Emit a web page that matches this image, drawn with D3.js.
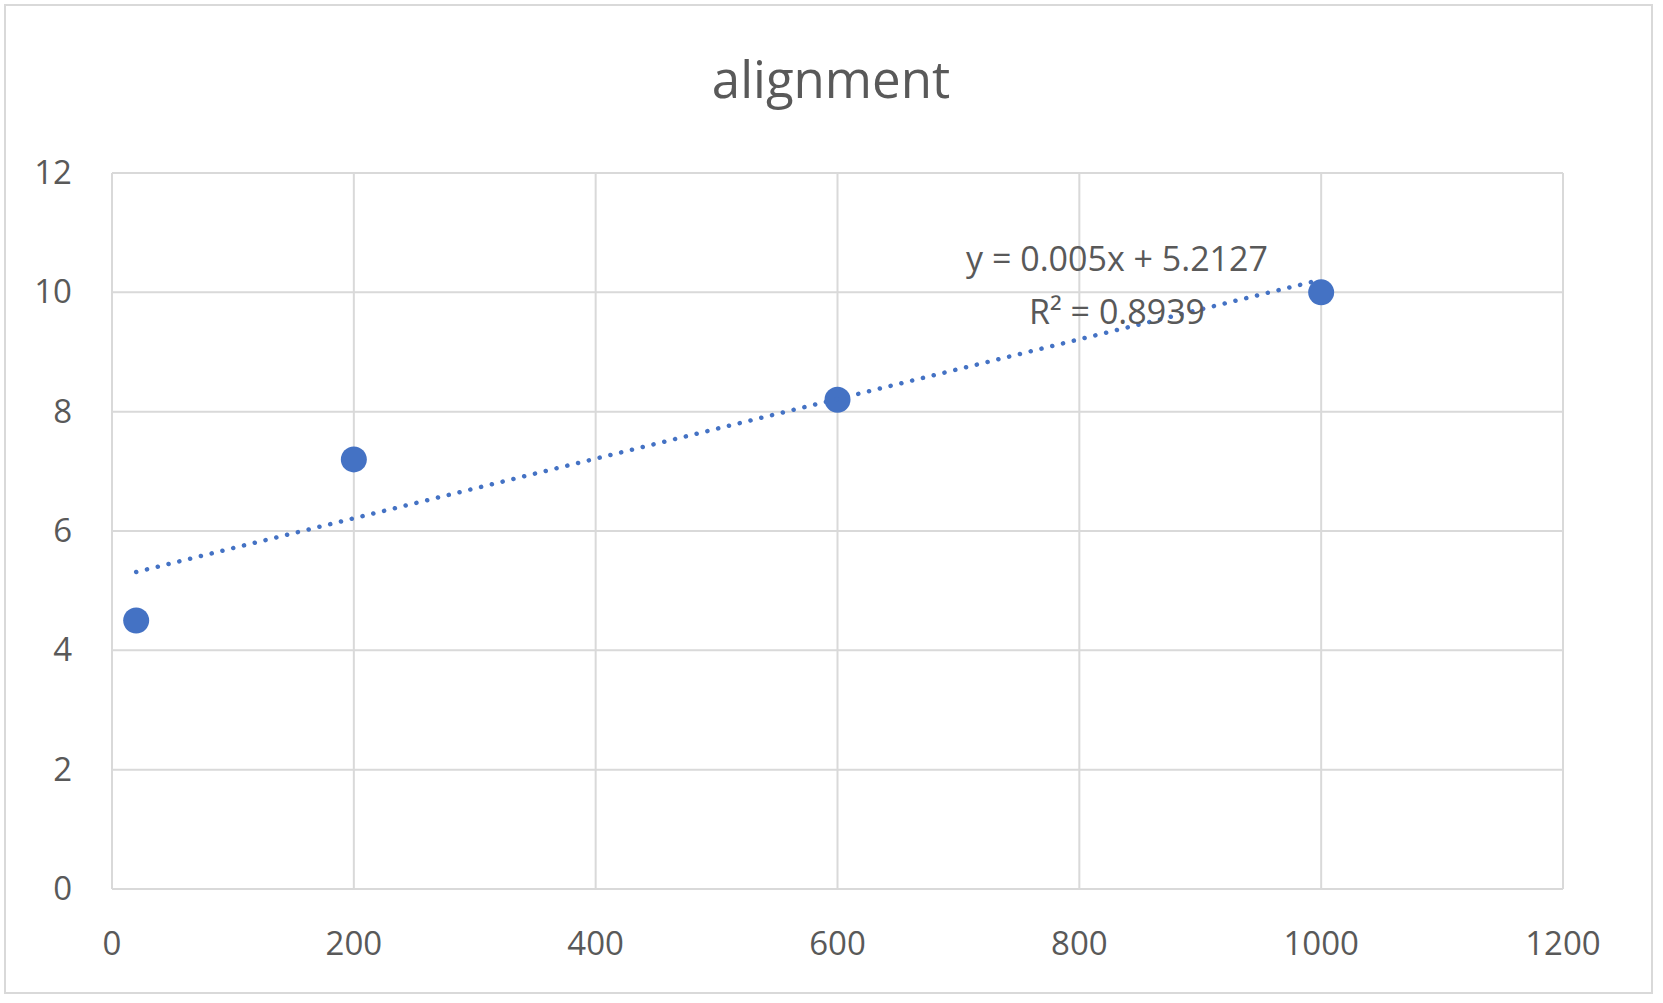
<!DOCTYPE html>
<html><head><meta charset="utf-8">
<script src="https://cdn.jsdelivr.net/npm/d3@7"></script>
<style>body{margin:0;background:#fff}</style>
</head><body>
<svg id="chart" width="1663" height="1003"></svg>
<script>
const xs = [20, 200, 600, 1000];
const ys = [4.5, 7.2, 8.2, 10];
const xTicks = [0, 200, 400, 600, 800, 1000, 1200];
const yTicks = [0, 2, 4, 6, 8, 10, 12];
const slope = 0.005, intercept = 5.2127;
const eqLines = ['y = 0.005x + 5.2127', 'R² = 0.8939'];

const svg = d3.select('#chart');
const font = "'Open Sans', sans-serif";
const grey = '#595959';
const x = d3.scaleLinear().domain([0, 1200]).range([112, 1563]);
const y = d3.scaleLinear().domain([0, 12]).range([889, 173]);

svg.append('rect').attr('x', 5).attr('y', 5).attr('width', 1647).attr('height', 988)
  .attr('fill', '#fff').attr('stroke', '#d9d9d9').attr('stroke-width', 2);

svg.append('text').attr('x', 831).attr('y', 98).attr('text-anchor', 'middle')
  .attr('font-family', font).attr('font-size', 51).attr('fill', grey).text('alignment');

const grid = svg.append('g').attr('stroke', '#d9d9d9').attr('stroke-width', 2);
grid.selectAll('.gx').data(xTicks).enter().append('line')
  .attr('x1', d => x(d)).attr('x2', d => x(d)).attr('y1', y(12)).attr('y2', y(0));
grid.selectAll('.gy').data(yTicks).enter().append('line')
  .attr('x1', x(0)).attr('x2', x(1200)).attr('y1', d => y(d)).attr('y2', d => y(d));

svg.selectAll('.xt').data(xTicks).enter().append('text')
  .attr('x', d => x(d)).attr('y', 955).attr('text-anchor', 'middle')
  .attr('font-family', font).attr('font-size', 33).attr('fill', grey).text(d => d);
svg.selectAll('.yt').data(yTicks).enter().append('text')
  .attr('x', 72).attr('y', d => y(d) + 11).attr('text-anchor', 'end')
  .attr('font-family', font).attr('font-size', 33).attr('fill', grey).text(d => d);

svg.selectAll('.pt').data(xs).enter().append('circle')
  .attr('cx', d => x(d)).attr('cy', (d, i) => y(ys[i])).attr('r', 13)
  .attr('fill', '#4472C4');

svg.append('line')
  .attr('x1', x(20)).attr('y1', y(slope * 20 + intercept))
  .attr('x2', x(1000)).attr('y2', y(slope * 1000 + intercept))
  .attr('stroke', '#4472C4').attr('stroke-width', 4.5)
  .attr('stroke-linecap', 'round').attr('stroke-dasharray', '0.1,11');

svg.selectAll('.eq').data(eqLines).enter().append('text')
  .attr('x', 1117).attr('y', (d, i) => 271 + i * 53).attr('text-anchor', 'middle')
  .attr('font-family', font).attr('font-size', 34).attr('fill', grey).text(d => d);
</script>
</body></html>
